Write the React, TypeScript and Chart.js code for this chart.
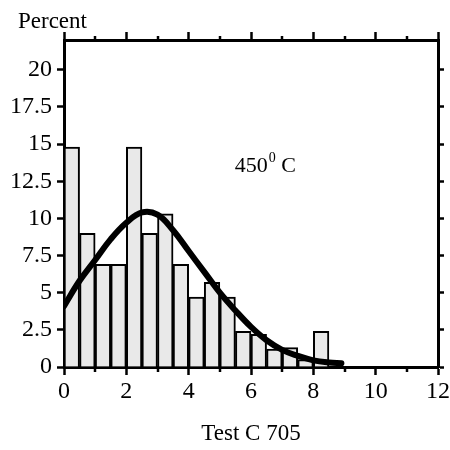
import React, { useEffect, useRef } from "react";
import { Chart, registerables } from "chart.js";

Chart.register(...registerables);

// Histogram bins (lower edges) and heights in percent
const BIN_START = [0, 0.5, 1, 1.5, 2, 2.5, 3, 3.5, 4, 4.5, 5, 5.5, 6, 6.5, 7, 7.5, 8];
const BIN_WIDTH = 0.5;
const BIN_PERCENT = [14.8, 9.0, 6.9, 6.9, 14.8, 9.0, 10.3, 6.9, 4.7, 5.7, 4.7, 2.4, 2.2, 1.2, 1.3, 0.5, 2.4];

// Fitted curve
const CURVE_X = [0, 0.5, 1, 1.5, 2, 2.5, 3, 3.5, 4, 4.5, 5, 5.5, 6, 6.5, 7, 7.5, 8, 8.5, 8.9];
const CURVE_Y = [4.1, 5.8, 7.2, 8.6, 9.7, 10.4, 10.25, 9.2, 7.8, 6.4, 5.0, 3.8, 2.7, 1.8, 1.15, 0.75, 0.45, 0.3, 0.25];

// Axes
const X_MIN = 0;
const X_MAX = 12;
const X_MAJOR_STEP = 2;
const X_MINOR_TICKS = [1, 3, 5, 7, 9, 11];
const Y_MIN = 0;
const Y_MAX = 22;
const Y_STEP = 2.5;

const Y_TITLE = "Percent";
const X_TITLE = "Test C 705";
const NOTE_MAIN = "450";
const NOTE_SUP = "0";
const NOTE_END = " C";
const NOTE_X = 5.48;
const NOTE_Y = 13.1;

const FONT = "'Liberation Serif', 'Times New Roman', serif";

export default function App() {
  const ref = useRef<HTMLCanvasElement | null>(null);

  useEffect(() => {
    if (!ref.current) return;

    const textPlugin = {
      id: "extras",
      afterDraw(chart: any) {
        const ctx = chart.ctx;
        const xs = chart.scales.x;
        const x2 = chart.scales.x2;
        const ys = chart.scales.y;
        ctx.save();
        ctx.strokeStyle = "#000";
        ctx.lineWidth = 2.5;
        // minor ticks
        for (const v of X_MINOR_TICKS) {
          const px = Math.round(xs.getPixelForValue(v));
          ctx.beginPath();
          ctx.moveTo(px, xs.top);
          ctx.lineTo(px, xs.top + 5);
          ctx.stroke();
          ctx.beginPath();
          ctx.moveTo(px, x2.bottom);
          ctx.lineTo(px, x2.bottom - 4);
          ctx.stroke();
        }
        ctx.fillStyle = "#000";
        ctx.textBaseline = "alphabetic";
        ctx.textAlign = "left";
        ctx.font = `23px ${FONT}`;
        ctx.fillText(Y_TITLE, 18, 28);
        // annotation
        const ax = xs.getPixelForValue(NOTE_X);
        const ay = ys.getPixelForValue(NOTE_Y);
        ctx.font = `22px ${FONT}`;
        ctx.fillText(NOTE_MAIN, ax, ay);
        const w1 = ctx.measureText(NOTE_MAIN).width;
        ctx.font = `14px ${FONT}`;
        ctx.fillText(NOTE_SUP, ax + w1 + 1, ay - 10);
        const w2 = ctx.measureText(NOTE_SUP).width;
        ctx.font = `22px ${FONT}`;
        ctx.fillText(NOTE_END, ax + w1 + w2 + 1, ay);
        ctx.restore();
      },
    };

    const barData = BIN_START.map((s, i) => ({ x: s + BIN_WIDTH / 2, y: BIN_PERCENT[i] }));
    const curveData = CURVE_X.map((x, i) => ({ x, y: CURVE_Y[i] }));

    const tickFont = { family: FONT, size: 24 };

    const chart = new Chart(ref.current, {
      type: "bar",
      data: {
        datasets: [
          {
            type: "line",
            data: curveData,
            borderColor: "#000",
            borderWidth: 6,
            pointRadius: 0,
            tension: 0.4,
            borderCapStyle: "round",
            borderJoinStyle: "round",
            fill: false,
            order: 0,
            xAxisID: "x",
            yAxisID: "y",
          } as any,
          {
            type: "bar",
            data: barData,
            backgroundColor: "#e9e9e9",
            borderColor: "#000",
            borderWidth: 2,
            barPercentage: 1,
            categoryPercentage: 1,
            order: 1,
            xAxisID: "x",
            yAxisID: "y",
          } as any,
        ],
      },
      options: {
        animation: false,
        responsive: false,
        devicePixelRatio: 1,
        layout: { padding: 0 },
        plugins: { legend: { display: false }, tooltip: { enabled: false }, title: { display: false } },
        scales: {
          x: {
            type: "linear",
            position: "bottom",
            min: X_MIN,
            max: X_MAX,
            offset: false,
            ticks: { stepSize: X_MAJOR_STEP, font: tickFont, color: "#000", padding: 2, maxRotation: 0, autoSkip: false },
            grid: { display: true, drawOnChartArea: false, drawTicks: true, tickLength: 8, tickWidth: 2.5, tickColor: "#000", offset: false },
            border: { display: true, color: "#000", width: 3 },
            title: { display: true, text: X_TITLE, font: { family: FONT, size: 23 }, color: "#000", padding: { top: 0, bottom: 2 } },
            afterFit: (s: any) => {
              s.height = 83;
              s.paddingLeft = 0;
              s.paddingRight = 0;
            },
          },
          x2: {
            type: "linear",
            position: "top",
            min: X_MIN,
            max: X_MAX,
            offset: false,
            ticks: { display: false, stepSize: X_MAJOR_STEP },
            grid: { display: true, drawOnChartArea: false, drawTicks: true, tickLength: 8, tickWidth: 2.5, tickColor: "#000", offset: false },
            border: { display: true, color: "#000", width: 3 },
            afterFit: (s: any) => {
              s.height = 40;
              s.paddingLeft = 0;
              s.paddingRight = 0;
            },
          },
          y: {
            type: "linear",
            position: "left",
            min: Y_MIN,
            max: Y_MAX,
            ticks: { stepSize: Y_STEP, includeBounds: false, font: tickFont, color: "#000", padding: 5 },
            grid: { display: true, drawOnChartArea: false, drawTicks: true, tickLength: 7, tickWidth: 2.5, tickColor: "#000" },
            border: { display: true, color: "#000", width: 3 },
            afterFit: (s: any) => {
              s.width = 64;
            },
          },
          y2: {
            type: "linear",
            position: "right",
            min: Y_MIN,
            max: Y_MAX,
            ticks: { display: false, stepSize: Y_STEP, includeBounds: false },
            grid: { display: true, drawOnChartArea: false, drawTicks: true, tickLength: 6, tickWidth: 2.5, tickColor: "#000" },
            border: { display: true, color: "#000", width: 3 },
            afterFit: (s: any) => {
              s.width = 12;
            },
          },
        },
      } as any,
      plugins: [textPlugin],
    });

    return () => chart.destroy();
  }, []);

  return (
    <div style={{ position: "fixed", left: 0, top: 0, width: 450, height: 450, background: "#fff" }}>
      <canvas ref={ref} width={450} height={450} style={{ display: "block" }} />
    </div>
  );
}
